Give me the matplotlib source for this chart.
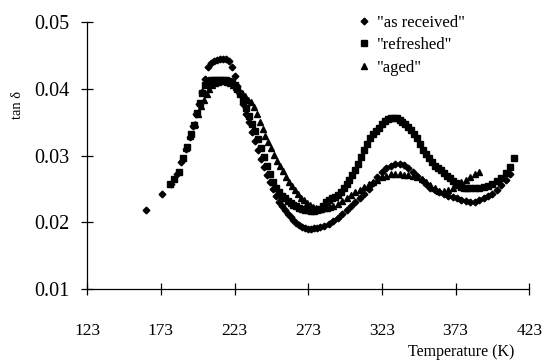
import matplotlib
matplotlib.use("Agg")
import matplotlib.pyplot as plt
from matplotlib.lines import Line2D

plt.rcParams['font.family'] = ['Liberation Serif', 'DejaVu Serif']
plt.rcParams['mathtext.fontset'] = 'stix'

# "as received"
t_recv = [163, 174, 180, 184, 187, 190, 192.5, 195, 197, 199, 201, 203, 205, 207, 209, 211, 213, 215,
          217, 219, 221, 223, 225, 227, 229, 231, 233, 235, 237, 239, 241, 243, 245, 247, 249, 251,
          253, 255, 257, 259, 261, 263, 265, 267, 269, 271, 273, 275, 277, 279, 281, 284, 287, 290,
          293, 296, 299, 302, 305, 308, 311, 314, 317, 320, 323, 326, 329, 332, 335, 338, 341, 344,
          347, 350, 353, 356, 359, 362, 365, 368, 371, 374, 377, 380, 383, 386, 389, 392, 395, 398,
          401, 404, 407, 410]
v_recv = [.0218, .0242, .0258, .0272, .0290, .0310, .0328, .0345, .0362, .0378, .0395, .0415, .0432,
          .0438, .0442, .0443, .0444, .0445, .0445, .0442, .0432, .0420, .0405, .0392, .0378, .0363,
          .0350, .0336, .0322, .0308, .0295, .0283, .0271, .0260, .0250, .0240, .0231, .0224, .0218,
          .0213, .0208, .0203, .0199, .0196, .0193, .0191, .0190, .0190, .0191, .0192, .0193, .0195,
          .0198, .0202, .0207, .0212, .0218, .0224, .0230, .0236, .0243, .0250, .0259, .0268, .0276,
          .0281, .0285, .0287, .0287, .0286, .0282, .0276, .0270, .0263, .0257, .0252, .0248, .0245,
          .0242, .0240, .0238, .0236, .0234, .0232, .0231, .0231, .0233, .0236, .0239, .0243, .0249,
          .0256, .0264, .0272]

# "refreshed"
t_refr = [179, 182, 185, 188, 191, 193.5, 195.5, 197.5, 199.5, 201, 203, 205, 207, 209, 211, 213, 215,
          217, 219, 221, 223, 225, 227, 229, 231, 233, 235, 237, 239, 241, 243, 245, 247, 249, 251,
          253, 255, 257, 259, 261, 263, 265, 267, 269, 271, 273, 275, 277, 279, 281, 283, 285, 287,
          289, 291, 293, 295, 297, 299, 301, 303, 305, 307, 309, 311, 313, 315, 317, 319, 321, 323,
          325, 327, 329, 331, 333, 335, 337, 339, 341, 343, 345, 347, 349, 351, 353, 355, 357, 359,
          361, 363, 365, 367, 369, 371, 373, 375, 377, 379, 381, 383, 386, 389, 392, 395, 398, 401,
          404, 407, 410, 413]
v_refr = [.0257, .0265, .0276, .0296, .0313, .0333, .0346, .0364, .0379, .0394, .0406, .0411, .0413,
          .0413, .0414, .0414, .0413, .0413, .0412, .0410, .0406, .0400, .0393, .0384, .0372, .0360,
          .0348, .0337, .0325, .0311, .0298, .0285, .0272, .0261, .0252, .0245, .0240, .0236, .0232,
          .0229, .0226, .0224, .0222, .0220, .0219, .0218, .0217, .0217, .0218, .0220, .0225, .0230,
          .0233, .0236, .0238, .0241, .0245, .0251, .0257, .0264, .0271, .0279, .0287, .0298, .0308,
          .0318, .0326, .0332, .0337, .0342, .0347, .0352, .0355, .0357, .0357, .0356, .0354, .0351,
          .0347, .0343, .0339, .0333, .0326, .0318, .0309, .0302, .0296, .0290, .0285, .0282, .0278,
          .0274, .0270, .0266, .0262, .0259, .0256, .0253, .0252, .0251, .0251, .0251, .0252, .0253,
          .0255, .0258, .0262, .0267, .0274, .0283, .0297]

# "aged"
t_aged = [190, 193, 196, 198, 200, 202, 204, 206, 208, 210, 212, 214, 216, 218, 220, 222, 224, 226,
          228, 230, 232, 234, 236, 238, 240, 242, 244, 246, 248, 250, 252, 254, 256, 258, 260, 262,
          264, 266, 268, 270, 272, 274, 276, 278, 280, 282, 284, 286, 288, 290, 293, 296, 299, 302,
          305, 308, 311, 314, 317, 320, 323, 326, 329, 332, 335, 338, 341, 344, 347, 350, 353, 356,
          359, 362, 365, 368, 371, 374, 377, 380, 383, 386, 389]
v_aged = [.0312, .0330, .0348, .0362, .0374, .0384, .0393, .0400, .0406, .0409, .0411, .0412, .0412,
          .0411, .0409, .0406, .0403, .0399, .0394, .0389, .0384, .0380, .0373, .0363, .0350, .0340,
          .0330, .0321, .0311, .0301, .0292, .0285, .0277, .0268, .0261, .0254, .0248, .0242, .0237,
          .0233, .0229, .0226, .0223, .0221, .0220, .0220, .0221, .0222, .0223, .0225, .0228, .0232,
          .0237, .0241, .0245, .0249, .0253, .0257, .0261, .0264, .0268, .0270, .0272, .0272, .0272,
          .0271, .0271, .0270, .0268, .0265, .0261, .0256, .0251, .0247, .0247, .0249, .0252, .0256,
          .0260, .0264, .0268, .0272, .0276]

x_ticks = [123, 173, 223, 273, 323, 373, 423]
y_ticks = [0.01, 0.02, 0.03, 0.04, 0.05]
y_tick_labels = ["0.01", "0.02", "0.03", "0.04", "0.05"]
labels = ['"as received"', '"refreshed"', '"aged"']

fig = plt.figure(figsize=(5.45, 3.63), dpi=100)
ax = fig.add_axes([0.16, 0.204, 0.811, 0.735])

ms_d, ms_s, ms_t = 3.4, 3.8, 4.2
ax.plot(t_recv, v_recv, linestyle='none', marker='D', ms=ms_d, color='black')
ax.plot(t_refr, v_refr, linestyle='none', marker='s', ms=ms_s, color='black')
ax.plot(t_aged, v_aged, linestyle='none', marker='^', ms=ms_t, color='black')

ax.set_xlim(123, 423)
ax.set_ylim(0.01, 0.05)
ax.set_xticks(x_ticks)
ax.set_yticks(y_ticks)
ax.set_yticklabels(y_tick_labels)
for s in ['top', 'right']:
    ax.spines[s].set_visible(False)
for s in ['left', 'bottom']:
    ax.spines[s].set_linewidth(0.9)
ax.tick_params(axis='both', direction='inout', length=9, width=0.9, colors='black')
ax.tick_params(axis='x', labelsize=12.5, pad=20)
ax.tick_params(axis='y', labelsize=14.5, pad=8)

fig.text(0.846, 0.03, 'Temperature (K)', ha='center', va='center', fontsize=11.5)
fig.text(0.032, 0.71, 'tan δ', ha='center', va='center', rotation=90, fontsize=10.5)

handles = [Line2D([], [], linestyle='none', marker='D', ms=ms_d, color='black'),
           Line2D([], [], linestyle='none', marker='s', ms=ms_s, color='black'),
           Line2D([], [], linestyle='none', marker='^', ms=ms_t, color='black')]
ax.legend(handles, labels, loc='upper left', bbox_to_anchor=(0.6, 1.052), frameon=False,
          fontsize=12, handlelength=0.6, handletextpad=0.5, labelspacing=0.38, borderaxespad=0)

fig.savefig('out.png', dpi=100)
